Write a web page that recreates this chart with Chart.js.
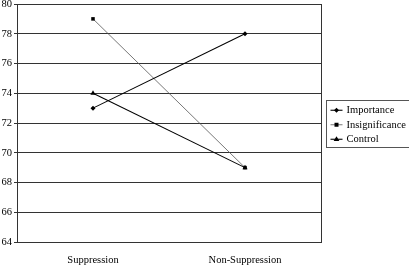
<!DOCTYPE html>
<html><head><meta charset="utf-8">
<script src="https://cdn.jsdelivr.net/npm/chart.js@4/dist/chart.umd.min.js"></script>
<style>html,body{margin:0;padding:0;background:#fff;overflow:hidden}#wrap{position:absolute;left:0;top:0;width:409px;height:269px}</style>
</head><body><div id="wrap"><canvas id="c" width="409" height="269"></canvas></div>
<script>
const categories = ["Suppression", "Non-Suppression"];
const importance = [73, 78];
const insignificance = [79, 69];
const control = [74, 69];
const yTicks = [64, 66, 68, 70, 72, 74, 76, 78, 80];

const FONT = "'Liberation Serif', 'Times New Roman', serif";
const FS = 10.5;

function drawMarker(ctx, style, x, y, r) {
  ctx.beginPath();
  if (style === 'rectRot') {
    ctx.moveTo(x, y - r); ctx.lineTo(x + r, y); ctx.lineTo(x, y + r); ctx.lineTo(x - r, y); ctx.closePath();
  } else if (style === 'rect') {
    ctx.rect(x - r * 0.8, y - r * 0.8, r * 1.6, r * 1.6);
  } else {
    ctx.moveTo(x, y - r); ctx.lineTo(x + r * 0.95, y + r * 0.6); ctx.lineTo(x - r * 0.95, y + r * 0.6); ctx.closePath();
  }
  ctx.fill();
}

const frame = {
  id: 'frame',
  afterDraw(chart) {
    const ctx = chart.ctx, a = chart.chartArea;
    ctx.save();
    ctx.strokeStyle = '#333'; ctx.lineWidth = 1;
    ctx.beginPath(); ctx.moveTo(Math.round(a.right) + 0.5, a.top); ctx.lineTo(Math.round(a.right) + 0.5, a.bottom); ctx.stroke();
    // legend
    ctx.font = FS + 'px ' + FONT;
    const ds = chart.data.datasets;
    let tw = 0; ds.forEach(d => tw = Math.max(tw, ctx.measureText(d.label).width));
    const rowH = 14.5;
    const w = Math.ceil(tw + 26), h = Math.ceil(rowH * ds.length + 3);
    const left = Math.round(a.right) + 5.5;
    const top = Math.round((a.top + a.bottom) / 2 - h / 2) + 0.5;
    ctx.strokeStyle = '#555';
    ctx.strokeRect(left, top, w, h);
    ds.forEach((d, i) => {
      const cy = top + 2 + rowH * (i + 0.5) + 0.5;
      ctx.strokeStyle = d.borderColor; ctx.lineWidth = d.borderWidth;
      ctx.beginPath(); ctx.moveTo(left + 4, cy); ctx.lineTo(left + 16, cy); ctx.stroke();
      ctx.fillStyle = '#000';
      drawMarker(ctx, d.pointStyle, left + 10, cy, d.pointRadius);
      ctx.fillStyle = '#000'; ctx.textBaseline = 'middle'; ctx.textAlign = 'left';
      ctx.fillText(d.label, left + 20, cy);
    });
    ctx.restore();
  }
};

new Chart(document.getElementById('c'), {
  type: 'line',
  data: {
    labels: categories,
    datasets: [
      { label: 'Importance', data: importance, borderColor: '#000', borderWidth: 1.1, pointStyle: 'rectRot', pointRadius: 2.5, pointBackgroundColor: '#000', pointBorderColor: '#000', pointBorderWidth: 0 },
      { label: 'Insignificance', data: insignificance, borderColor: '#555', borderWidth: 0.8, pointStyle: 'rect', pointRadius: 2.5, pointBackgroundColor: '#000', pointBorderColor: '#000', pointBorderWidth: 0 },
      { label: 'Control', data: control, borderColor: '#000', borderWidth: 1.1, pointStyle: 'triangle', pointRadius: 3, pointBackgroundColor: '#000', pointBorderColor: '#000', pointBorderWidth: 0 }
    ]
  },
  options: {
    responsive: false, animation: false, devicePixelRatio: 1,
    layout: { padding: { top: 3, right: 88, left: 0, bottom: 0 } },
    plugins: { legend: { display: false }, tooltip: { enabled: false } },
    elements: { line: { tension: 0 } },
    scales: {
      x: {
        offset: true,
        grid: { display: false },
        border: { display: true, color: '#333' },
        ticks: { color: '#000', font: { family: FONT, size: FS }, padding: 4 },
        afterFit(s) { s.height = 27; s.paddingLeft = 0; s.paddingRight = 0; }
      },
      y: {
        min: 64, max: 80,
        afterBuildTicks(s) { s.ticks = yTicks.map(v => ({ value: v })); },
        grid: { color: '#333', lineWidth: 1, tickLength: 3 },
        border: { display: true, color: '#333' },
        ticks: { color: '#000', font: { family: FONT, size: FS }, padding: 2 },
        afterFit(s) { s.width = 17; s.paddingTop = 0; s.paddingBottom = 0; }
      }
    }
  },
  plugins: [frame]
});
</script>
</body></html>
